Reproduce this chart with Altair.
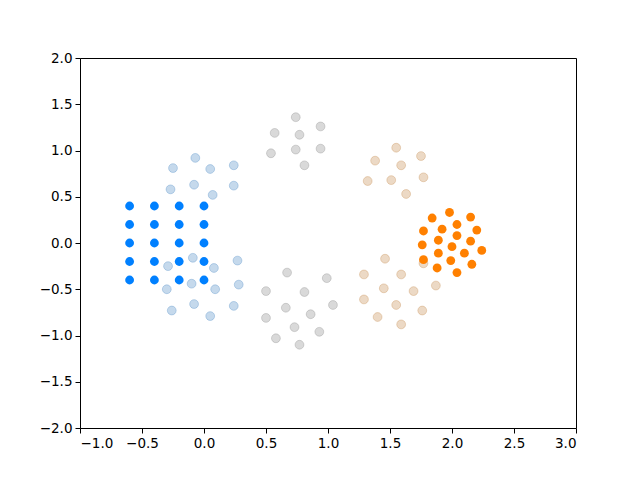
import altair as alt
import pandas as pd

# Solid blue grid cluster
blue_x = [-0.6, -0.4, -0.2, 0.0] * 5
blue_y = [0.4] * 4 + [0.2] * 4 + [0.0] * 4 + [-0.2] * 4 + [-0.4] * 4

# Solid orange cluster
orange_x = [1.84, 1.98, 2.15, 2.04, 1.92, 1.77, 2.20, 2.04, 1.89, 2.15,
            1.76, 2.00, 2.10, 1.89, 2.24, 1.77, 1.99, 2.16, 1.88, 2.04]
orange_y = [0.27, 0.33, 0.28, 0.20, 0.15, 0.13, 0.14, 0.08, 0.03, 0.02,
            -0.02, -0.04, -0.11, -0.11, -0.08, -0.18, -0.19, -0.23, -0.27, -0.32]

# Faded light-blue points
lblue_x = [-0.07, -0.25, 0.05, 0.24, -0.27, -0.08, 0.24, 0.07,
           -0.29, -0.09, 0.08, 0.27, -0.30, -0.10, 0.09, 0.28, -0.26, -0.08, 0.05, 0.24]
lblue_y = [0.92, 0.81, 0.80, 0.84, 0.58, 0.63, 0.62, 0.52,
           -0.25, -0.16, -0.27, -0.19, -0.50, -0.44, -0.50, -0.45, -0.73, -0.66, -0.79, -0.68]

# Faded gray points
gray_x = [0.74, 0.57, 0.94, 0.77, 0.54, 0.74, 0.94, 0.81,
          0.67, 0.99, 0.50, 0.81, 0.66, 1.04, 0.86, 0.50, 0.73, 0.93, 0.58, 0.77]
gray_y = [1.36, 1.19, 1.26, 1.17, 0.97, 1.01, 1.02, 0.84,
          -0.32, -0.38, -0.52, -0.53, -0.70, -0.67, -0.77, -0.81, -0.91, -0.96, -1.03, -1.10]

# Faded tan points
tan_x = [1.55, 1.38, 1.75, 1.59, 1.32, 1.51, 1.77, 1.63,
         1.46, 1.29, 1.59, 1.77, 1.45, 1.69, 1.87, 1.29, 1.55, 1.76, 1.40, 1.59]
tan_y = [1.03, 0.89, 0.94, 0.84, 0.67, 0.68, 0.71, 0.53,
         -0.17, -0.34, -0.34, -0.22, -0.49, -0.52, -0.46, -0.61, -0.67, -0.73, -0.80, -0.88]

x_ticks = [-1.0, -0.5, 0.0, 0.5, 1.0, 1.5, 2.0, 2.5, 3.0]
y_ticks = [-2.0, -1.5, -1.0, -0.5, 0.0, 0.5, 1.0, 1.5, 2.0]


def frame(xs, ys, g):
    return pd.DataFrame({"x": xs, "y": ys, "g": g})


faded = pd.concat([
    frame(lblue_x, lblue_y, "lblue"),
    frame(gray_x, gray_y, "gray"),
    frame(tan_x, tan_y, "tan"),
])
solid = pd.concat([
    frame(blue_x, blue_y, "blue"),
    frame(orange_x, orange_y, "orange"),
])

xs = alt.Scale(domain=[-1, 3], nice=False, zero=False)
ys = alt.Scale(domain=[-2, 2], nice=False, zero=False)

label_expr = "replace(format(datum.value, '.1f'), '-', '\u2212')"
axis_common = dict(labelExpr=label_expr, grid=False, domainColor="black", tickColor="black",
                   labelColor="black", labelFont="DejaVu Sans", labelFontSize=13.5,
                   tickSize=5, labelPadding=3, domainWidth=1, tickWidth=1, title=None)

faded_domain = ["lblue", "gray", "tan"]
faded_range = ["#4080bf", "#808080", "#bf8040"]

faded_layer = alt.Chart(faded).mark_point(
    filled=False, shape="circle", size=78, fillOpacity=0.3, strokeOpacity=0.3, strokeWidth=1
).encode(
    x=alt.X("x:Q", scale=xs, axis=alt.Axis(values=x_ticks, orient="bottom", **axis_common)),
    y=alt.Y("y:Q", scale=ys, axis=alt.Axis(values=y_ticks, orient="left", **axis_common)),
    fill=alt.Color("g:N", scale=alt.Scale(domain=faded_domain, range=faded_range), legend=None),
    stroke=alt.Color("g:N", scale=alt.Scale(domain=faded_domain, range=faded_range), legend=None),
)

# invisible layer only to draw the top and right frame lines as axis domains
frame_axis = dict(labels=False, ticks=False, grid=False, domainColor="black",
                  domainWidth=1, title=None)
frame_layer = alt.Chart(solid).mark_point(opacity=0).encode(
    x=alt.X("x:Q", scale=xs, axis=alt.Axis(orient="top", **frame_axis)),
    y=alt.Y("y:Q", scale=ys, axis=alt.Axis(orient="right", **frame_axis)),
)

solid_layer = alt.Chart(solid).mark_circle(size=78, opacity=1).encode(
    x=alt.X("x:Q", scale=xs, axis=None),
    y=alt.Y("y:Q", scale=ys, axis=None),
    color=alt.Color("g:N", scale=alt.Scale(domain=["blue", "orange"],
                                           range=["#0080ff", "#ff8000"]), legend=None),
)

chart = alt.layer(faded_layer, frame_layer, solid_layer).resolve_scale(
    color="independent"
).resolve_axis(x="independent", y="independent").properties(
    width=496, height=370,
    autosize=alt.AutoSizeParams(type="none"),
    padding={"left": 72, "top": 50, "right": 50, "bottom": 50},
).configure_view(strokeOpacity=0).configure(background="white")

chart.save("out.html", embed_options={"renderer": "svg", "actions": False})
